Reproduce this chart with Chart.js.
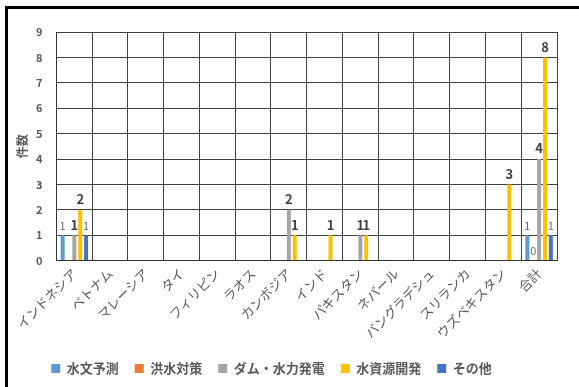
<!DOCTYPE html>
<html>
<head>
<meta charset="utf-8">
<script src="https://cdn.jsdelivr.net/npm/chart.js@4.4.1/dist/chart.umd.min.js"></script>
<style>
  body { margin: 0; background: #fff; }
  #wrap { position: relative; width: 579px; height: 387px; }
  #frame { position: absolute; left: 5px; top: 6px; width: 600px; height: 400px;
           border-top: 3px solid #000; border-left: 3px solid #000; pointer-events: none; }
</style>
</head>
<body>
<div id="wrap">
  <canvas id="grafica" width="579" height="387"></canvas>
  <div id="frame"></div>
</div>
<script>
const paises = ['インドネシア', 'ベトナム', 'マレーシア', 'タイ', 'フィリピン', 'ラオス', 'カンボジア',
    'インド', 'パキスタン', 'ネパール', 'バングラデシュ', 'スリランカ', 'ウズベキスタン', '合計'];

// null = sin etiqueta
const suimon   = [1, null, null, null, null, null, null, null, null, null, null, null, null, 1];
const kouzui   = [null, null, null, null, null, null, null, null, null, null, null, null, null, 0];
const damu     = [1, null, null, null, null, null, 2, null, 1, null, null, null, null, 4];
const shigen   = [2, null, null, null, null, null, 1, 1, 1, null, null, null, 3, 8];
const sonota   = [1, null, null, null, null, null, null, null, null, null, null, null, null, 1];

const tituloY = '件数';
const fuente = '"Noto Sans CJK JP", "Noto Sans", sans-serif';

// etiquetas de valores encima de las barras + titulo del eje Y
const etiquetas = {
    id: 'etiquetas',
    afterLayout(chart) {
        // mover la leyenda un poco a la izquierda
        chart.legend.left -= 18;
        chart.legend.right -= 18;
    },
    afterDatasetsDraw(chart) {
        const ctx = chart.ctx;
        chart.data.datasets.forEach((ds, i) => {
            const meta = chart.getDatasetMeta(i);
            const grande = (i === 2 || i === 3);
            ctx.save();
            ctx.font = grande ? 'bold 13px ' + fuente : '11px ' + fuente;
            ctx.fillStyle = grande ? '#404040' : '#6b6b6b';
            ctx.textAlign = 'center';
            ctx.textBaseline = 'bottom';
            meta.data.forEach((bar, j) => {
                const v = ds.data[j];
                if (v === null) return;
                ctx.fillText(String(v), bar.x, bar.y - 4);
            });
            ctx.restore();
        });

        const area = chart.chartArea;
        ctx.save();
        ctx.translate(22, (area.top + area.bottom) / 2);
        ctx.rotate(-Math.PI / 2);
        ctx.font = 'bold 12px ' + fuente;
        ctx.fillStyle = '#595959';
        ctx.textAlign = 'center';
        ctx.textBaseline = 'middle';
        ctx.fillText(tituloY, 0, 0);
        ctx.restore();
    }
};

new Chart(document.getElementById('grafica'), {
    type: 'bar',
    data: {
        labels: paises,
        datasets: [
            { label: '水文予測', data: suimon, backgroundColor: '#5B9BD5' },
            { label: '洪水対策', data: kouzui, backgroundColor: '#ED7D31' },
            { label: 'ダム・水力発電', data: damu, backgroundColor: '#A5A5A5' },
            { label: '水資源開発', data: shigen, backgroundColor: '#FFC000' },
            { label: 'その他', data: sonota, backgroundColor: '#4472C4' }
        ]
    },
    options: {
        responsive: false,
        animation: false,
        layout: { padding: { left: 22, right: 22, top: 32, bottom: 2 } },
        datasets: { bar: { categoryPercentage: 0.82, barPercentage: 0.68 } },
        plugins: {
            legend: {
                position: 'bottom',
                labels: {
                    boxWidth: 9, boxHeight: 9, padding: 16,
                    color: '#595959',
                    font: { family: fuente, size: 13, weight: 'bold' }
                }
            },
            tooltip: { enabled: false }
        },
        scales: {
            x: {
                grid: { color: '#404040', offset: true, drawTicks: false },
                border: { color: '#333' },
                ticks: {
                    color: '#595959', minRotation: 45, maxRotation: 45, padding: 5,
                    font: { family: fuente, size: 13 }
                }
            },
            y: {
                min: 0, max: 9,
                grid: { color: '#404040', drawTicks: false },
                border: { color: '#333' },
                ticks: { stepSize: 1, color: '#595959', padding: 14, font: { family: fuente, size: 11, weight: 'bold' } }
            }
        }
    },
    plugins: [etiquetas]
});
</script>
</body>
</html>
